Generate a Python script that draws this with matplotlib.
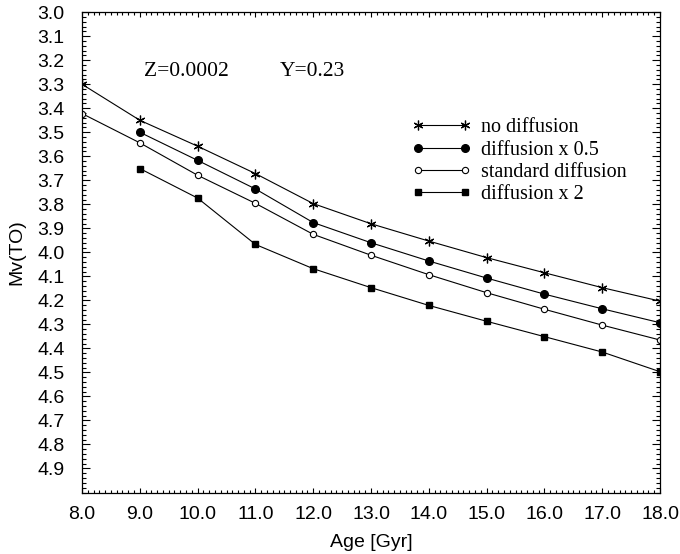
import matplotlib
matplotlib.use("Agg")
import matplotlib.pyplot as plt
from matplotlib.ticker import MultipleLocator, FormatStrFormatter

plt.rcParams['font.family'] = ['Liberation Sans', 'DejaVu Sans']

# ages in Gyr
age_all = [8, 9, 10, 11, 12, 13, 14, 15, 16, 17, 18]
age_9 = [9, 10, 11, 12, 13, 14, 15, 16, 17, 18]

# turnoff magnitudes
mv_nodiff = [3.30, 3.45, 3.558, 3.672, 3.797, 3.881, 3.953, 4.022, 4.085, 4.147, 4.203]
mv_half = [3.50, 3.617, 3.736, 3.876, 3.960, 4.036, 4.107, 4.174, 4.235, 4.293]
mv_std = [3.422, 3.544, 3.679, 3.796, 3.925, 4.012, 4.093, 4.168, 4.237, 4.303, 4.365]
mv_x2 = [3.651, 3.774, 3.967, 4.068, 4.147, 4.221, 4.287, 4.351, 4.415, 4.497]

fig = plt.figure(figsize=(6.8, 5.54), dpi=100)
ax = fig.add_axes([0.1206, 0.111, 0.85, 0.867])

lw = 0.8
ax.plot(age_all, mv_nodiff, color='black', lw=lw, marker=(6, 2, 0), ms=7,
        mew=0.9, label='no diffusion')
ax.plot(age_9, mv_half, color='black', lw=lw, marker='o', ms=5.5,
        label='diffusion x 0.5')
ax.plot(age_all, mv_std, color='black', lw=lw, marker='o', ms=4.5,
        mfc='white', mew=0.8, label='standard diffusion')
ax.plot(age_9, mv_x2, color='black', lw=lw, marker='s', ms=4.5,
        label='diffusion x 2')

ax.set_xlim(8, 18)
ax.set_ylim(5.0, 3.0)

ax.xaxis.set_major_locator(MultipleLocator(1))
ax.xaxis.set_minor_locator(MultipleLocator(0.1))
ax.xaxis.set_major_formatter(FormatStrFormatter('%.1f'))
ax.yaxis.set_minor_locator(MultipleLocator(0.02))
ax.set_yticks([3.0 + 0.1 * i for i in range(20)])
ax.yaxis.set_major_formatter(FormatStrFormatter('%.1f'))

ax.tick_params(which='both', direction='in', top=True, right=True,
               labelsize=14, width=0.8)
ax.tick_params(axis='x', which='major', length=3.8, pad=9.5)
ax.tick_params(axis='x', which='minor', length=2.2)
ax.tick_params(axis='y', which='major', length=5.5, pad=12.5)
ax.tick_params(axis='y', which='minor', length=2.7)
for s in ax.spines.values():
    s.set_linewidth(0.9)

ax.set_xlabel('Age [Gyr]', fontsize=14, labelpad=8)
ax.set_ylabel('Mv(TO)', fontsize=14, labelpad=8.5)

ax.text(9.08, 3.248, 'Z=0.0002', family='Liberation Serif', fontsize=15.5,
        va='center', ha='left')
ax.text(11.43, 3.248, 'Y=0.23', family='Liberation Serif', fontsize=15.5,
        va='center', ha='left')

ax.legend(loc='upper left', bbox_to_anchor=(0.571, 0.779), frameon=False,
          numpoints=2, handlelength=2.95, handletextpad=0.45, labelspacing=0.15,
          borderpad=0, borderaxespad=0,
          prop={'family': 'Liberation Serif', 'size': 14.5})

fig.savefig('out.png', dpi=100)
